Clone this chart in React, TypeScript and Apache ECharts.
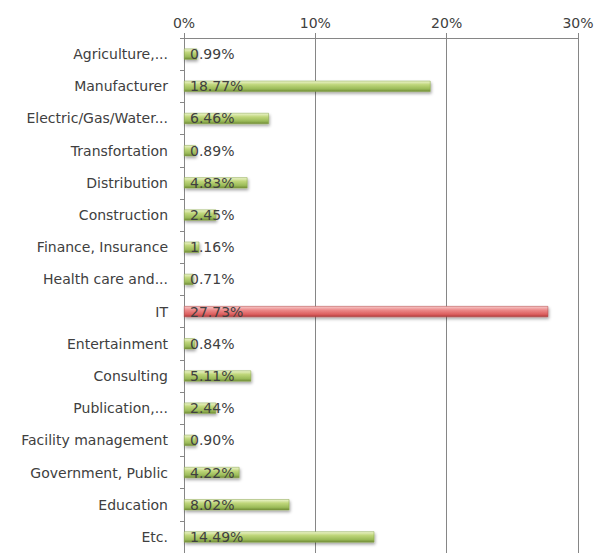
import React, { useEffect, useRef } from "react";
import * as echarts from "echarts";

const categories = [
  "Agriculture,...",
  "Manufacturer",
  "Electric/Gas/Water...",
  "Transfortation",
  "Distribution",
  "Construction",
  "Finance, Insurance",
  "Health care and...",
  "IT",
  "Entertainment",
  "Consulting",
  "Publication,...",
  "Facility management",
  "Government, Public",
  "Education",
  "Etc.",
];
const values = [0.99, 18.77, 6.46, 0.89, 4.83, 2.45, 1.16, 0.71, 27.73, 0.84, 5.11, 2.44, 0.9, 4.22, 8.02, 14.49];
const highlight = "IT";
const axisMax = 30;
const axisInterval = 10;

const green = new echarts.graphic.LinearGradient(0, 0, 0, 1, [
  { offset: 0, color: "#eef5cf" },
  { offset: 0.35, color: "#bfd67a" },
  { offset: 0.75, color: "#9bbb59" },
  { offset: 1, color: "#6f8a35" },
]);
const red = new echarts.graphic.LinearGradient(0, 0, 0, 1, [
  { offset: 0, color: "#f7caca" },
  { offset: 0.35, color: "#ec8a8a" },
  { offset: 0.75, color: "#dd5f5f" },
  { offset: 1, color: "#b03a3a" },
]);

export default function App() {
  const ref = useRef<HTMLDivElement>(null);
  useEffect(() => {
    document.body.style.margin = "0";
    const chart = echarts.init(ref.current!, null, { renderer: "svg" });
    const font = "'DejaVu Sans', sans-serif";
    chart.setOption({
      animation: false,
      backgroundColor: "#ffffff",
      grid: { left: 184, right: 26, top: 38, bottom: 0 },
      xAxis: {
        type: "value",
        position: "top",
        min: 0,
        max: axisMax,
        interval: axisInterval,
        axisLine: { show: true, lineStyle: { color: "#868686", width: 1 } },
        axisTick: { show: true, length: 5, lineStyle: { color: "#868686" } },
        splitLine: { show: true, lineStyle: { color: "#868686", width: 1 } },
        axisLabel: {
          formatter: "{value}%",
          color: "#404040",
          fontFamily: font,
          fontSize: 14,
          margin: 8,
        },
      },
      yAxis: {
        type: "category",
        inverse: true,
        data: categories,
        axisLine: { show: true, lineStyle: { color: "#868686", width: 1 } },
        axisTick: { show: true, length: 4, lineStyle: { color: "#868686" } },
        axisLabel: {
          color: "#404040",
          fontFamily: font,
          fontSize: 14,
          margin: 16,
        },
      },
      series: [
        {
          type: "bar",
          barWidth: 11,
          data: values.map((v, i) => ({
            value: v,
            itemStyle: {
              color: categories[i] === highlight ? red : green,
              borderColor: categories[i] === highlight ? "#b04545" : "#86a447",
              borderWidth: 0.5,
              shadowBlur: 3,
              shadowColor: "rgba(0,0,0,0.35)",
              shadowOffsetX: 1,
              shadowOffsetY: 2,
            },
          })),
          label: {
            show: true,
            position: "insideLeft",
            distance: 6,
            formatter: (p: any) => p.value.toFixed(2) + "%",
            color: "#404040",
            fontFamily: font,
            fontSize: 14,
          },
        },
      ],
    });
    return () => chart.dispose();
  }, []);
  return <div ref={ref} style={{ width: 604, height: 553 }} />;
}
